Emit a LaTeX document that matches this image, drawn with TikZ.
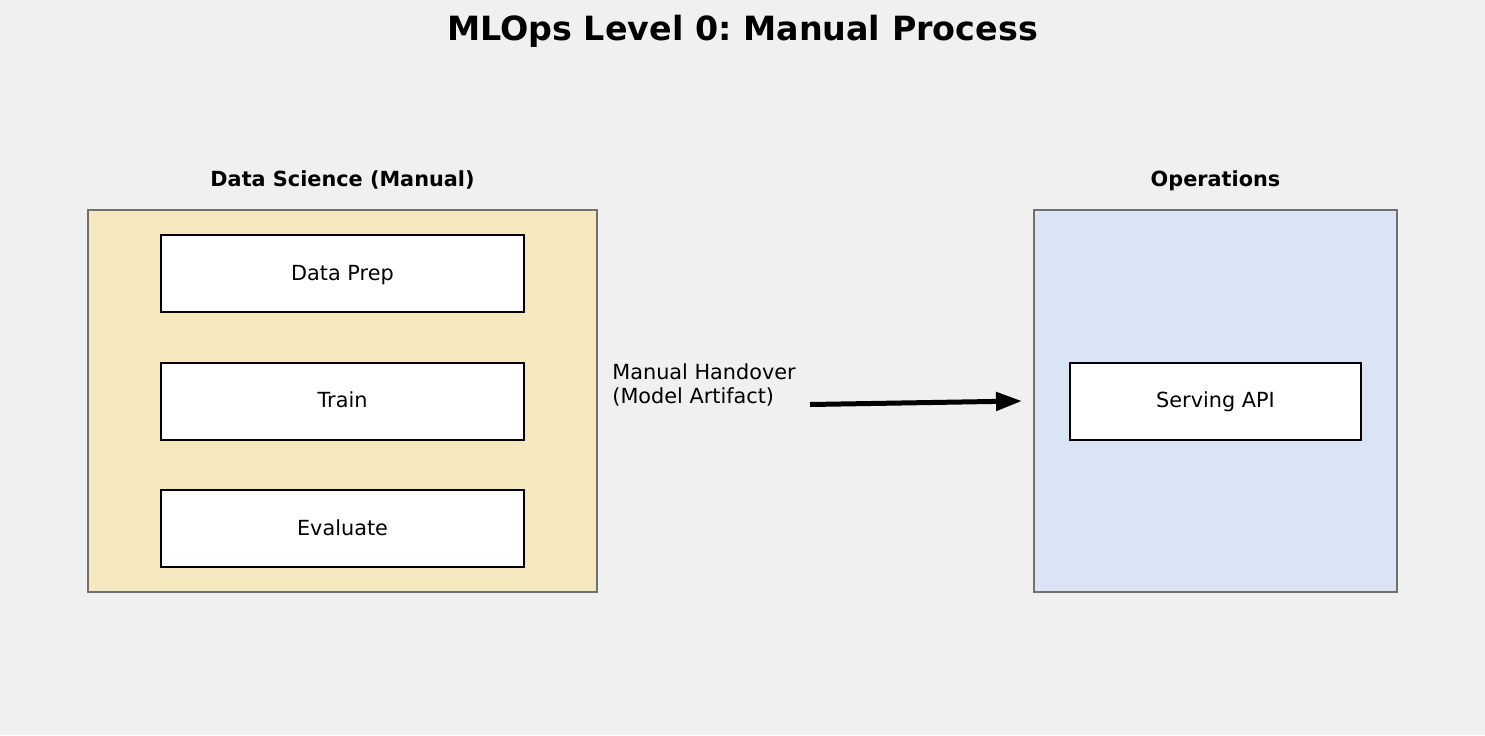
\documentclass[tikz,border=0pt]{standalone}
\usepackage{fontspec}
\setmainfont{DejaVu Sans}
\usetikzlibrary{arrows.meta,positioning}
\definecolor{bggray}{HTML}{F0F0F0}
\definecolor{dsfill}{HTML}{F5E8BE}
\definecolor{opsfill}{HTML}{D9E5F5}
\definecolor{edgegray}{HTML}{707070}
\frenchspacing

\begin{document}
\begin{tikzpicture}[x=0.5pt,y=-0.5pt,>={Triangle[length=13pt,width=9pt]}]
  \tikzstyle{group}=[draw=edgegray,line width=1pt,inner sep=0pt]
  \tikzstyle{box}=[draw,fill=white,line width=1pt,minimum width=181.5pt,minimum height=38.5pt,text height=7.6pt,text depth=1pt,font=\fontsize{10.4}{12.5}\selectfont]
  \tikzstyle{head}=[font=\bfseries\fontsize{10.4}{12.5}\selectfont,anchor=base]
  \fill[bggray] (0,0) rectangle (1485,735);
  \node[font=\bfseries\fontsize{16.67}{20}\selectfont,anchor=base] (title) at (742.5,40) {MLOps Level 0: Manual Process};
  % two columns
  \node[group,fill=dsfill,minimum width=254.5pt,minimum height=191pt] (ds) at (342.5,401) {};
  \node[group,fill=opsfill,minimum width=181.5pt,minimum height=191pt] (ops) at (1215.5,401) {};
  \node[head] (dshead) at (342.5,186) {Data Science (Manual)};
  \node[head] (opshead) at (1215.5,186) {Operations};
  % steps
  \node[box] (train) at (342.5,401) {Train};
  \node[box,above=24.25pt of train] (prep) {Data Prep};
  \node[box,below=24.25pt of train] (eval) {Evaluate};
  \node[box,minimum width=145.5pt] (serve) at (1215.5,401) {Serving API};
  % handover
  \node[font=\fontsize{10.4}{12}\selectfont,align=left,anchor=base west,inner sep=0pt] (hand) at (612,403) {Manual Handover\\(Model Artifact)};
  \coordinate (hfrom) at (810,404.5);
  \coordinate (hto) at (1022,401);
  \draw[line width=2.5pt,->] (hfrom) -- (hto);
\end{tikzpicture}
\end{document}
